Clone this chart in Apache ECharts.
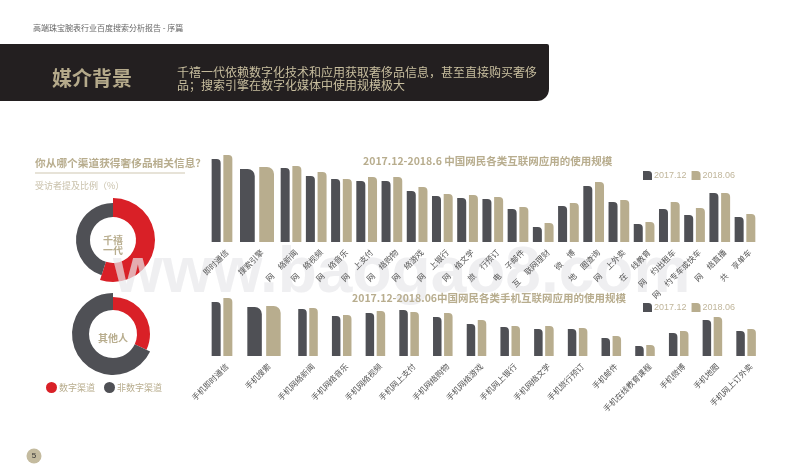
<!DOCTYPE html>
<html>
<head>
<meta charset="utf-8">
<style>
  html, body { margin: 0; padding: 0; background: #fff; }
  #main { width: 800px; height: 476px; }
</style>
<script src="https://cdn.jsdelivr.net/npm/echarts@6/dist/echarts.min.js"></script>
</head>
<body>
<div id="main"></div>
<script>
// values are estimates (million users)
const webCategories = ["即时通信", "搜索引擎", "网络新闻", "网络视频", "网络音乐", "网上支付", "网络购物", "网络游戏", "网上银行", "网络文学", "旅行预订", "电子邮件", "互联网理财", "微博", "地图查询", "网上外卖", "在线教育", "网约出租车", "网约专车或快车", "网络直播", "共享单车"];
const web2017 = [722, 635, 644, 574, 548, 531, 531, 444, 400, 383, 374, 287, 131, 313, 487, 348, 157, 287, 235, 426, 218];
const web2018 = [757, 653, 661, 609, 548, 566, 566, 479, 418, 409, 392, 305, 165, 339, 522, 365, 174, 348, 296, 426, 244];

const mobileCategories = ["手机即时通信", "手机搜索", "手机网络新闻", "手机网络音乐", "手机网络视频", "手机网上支付", "手机网络购物", "手机网络游戏", "手机网上银行", "手机网络文学", "手机旅行预订", "手机邮件", "手机在线教育课程", "手机微博", "手机地图", "手机网上订外卖"];
const mobile2017 = [697, 632, 606, 516, 555, 593, 503, 413, 374, 348, 348, 232, 129, 297, 464, 323];
const mobile2018 = [748, 645, 619, 529, 581, 568, 555, 464, 387, 387, 361, 258, 142, 323, 503, 348];

const channelNames = ["数字渠道", "非数字渠道"];
const millennialShare = [55, 45];
const othersShare = [32, 68];

const DARK = "#4f5055";
const TAN = "#b8ad8e";
const LEGEND_ICON = "path://M0 0H60Q100 0 100 40V100H0Z";

const grids = [];
const xAxes = [];
const yAxes = [];
const series = [];

// one grid with its axes and its pair of bars; the first two groups are wider apart than the rest
function addBars(cats, a, b, left, width, top, height, barWidth, radius, labelFn) {
  const i = grids.length;
  grids.push({ left, width, top, height });
  xAxes.push({
    gridIndex: i,
    type: "category",
    data: cats,
    z: 120, // labels stay readable over the watermark
    axisLine: { show: false },
    axisTick: { show: false },
    axisLabel: {
      interval: 0,
      rotate: 45,
      fontSize: 8,
      margin: 14,
      padding: [0, -7, 0, 0],
      color: "#555",
      fontFamily: "Noto Sans CJK SC",
      hideOverlap: false,
      formatter: labelFn,
    },
  });
  yAxes.push({ gridIndex: i, type: "value", min: 0, max: 800, show: false });
  [["2017.12", a, DARK], ["2018.06", b, TAN]].forEach(([name, data, color]) => {
    series.push({
      name,
      type: "bar",
      xAxisIndex: i,
      yAxisIndex: i,
      data,
      barWidth,
      barGap: "30%",
      silent: true,
      itemStyle: { color, borderRadius: [0, radius, 0, 0] },
    });
  });
}

// the reference drops the first character of the short web labels away from the rest
const splitLabel = (v) => v[0] + "     " + v.slice(1);

addBars(webCategories.slice(0, 1), web2017.slice(0, 1), web2018.slice(0, 1), 205, 34, 150, 92, 9, 4);
addBars(webCategories.slice(1, 2), web2017.slice(1, 2), web2018.slice(1, 2), 240, 34, 150, 92, 15, 7);
addBars(webCategories.slice(2), web2017.slice(2), web2018.slice(2), 278.4, 479.2, 150, 92, 9, 4, splitLabel);

addBars(mobileCategories.slice(0, 1), mobile2017.slice(0, 1), mobile2018.slice(0, 1), 205, 34, 294, 62, 9, 4);
addBars(mobileCategories.slice(1, 2), mobile2017.slice(1, 2), mobile2018.slice(1, 2), 247, 34, 294, 62, 14.5, 7);
addBars(mobileCategories.slice(2), mobile2017.slice(2), mobile2018.slice(2), 291.15, 471.8, 294, 62, 8.5, 4);

// the red and grey rings have different outer radii, so each is its own pie
function addDonut(share, center, inner, redOuter, greyOuter) {
  series.push({
    type: "pie",
    center,
    radius: [inner, redOuter],
    startAngle: 90,
    silent: true,
    label: { show: false },
    data: [
      { name: channelNames[0], value: share[0], itemStyle: { color: "#d92027" } },
      { name: "rest", value: share[1], itemStyle: { color: "transparent" } },
    ],
  });
  series.push({
    type: "pie",
    center,
    radius: [inner, greyOuter],
    startAngle: 90,
    silent: true,
    label: { show: false },
    data: [
      { name: "rest", value: share[0], itemStyle: { color: "transparent" } },
      { name: channelNames[1], value: share[1], itemStyle: { color: DARK } },
    ],
  });
}
addDonut(millennialShare, [113, 240], 23, 42, 37);
addDonut(othersShare, [113, 334], 24, 37, 41);

function text(str, x, y, font, fill, extra) {
  return { type: "text", x, y, z: 110, style: Object.assign({ text: str, font, fill, textVerticalAlign: "middle" }, extra) };
}
const CJK = '"Noto Sans CJK SC"';

const graphic = [
  { type: "rect", z: 1, shape: { x: 0, y: 44, width: 549, height: 57, r: [0, 2, 12, 0] }, style: { fill: "#231f20" } },
  { type: "rect", z: 1, shape: { x: 35, y: 172.5, width: 150, height: 1 }, style: { fill: "#cfc7b2" } },
  { type: "circle", z: 1, shape: { cx: 34, cy: 456, r: 7.5 }, style: { fill: "#c4bb9f" } },
  text("高端珠宝腕表行业百度搜索分析报告 - 序篇", 33, 28, "8px " + CJK, "#666"),
  text("媒介背景", 52, 78, "bold 20px " + CJK, "#b5aa8b"),
  text("千禧一代依赖数字化技术和应用获取奢侈品信息，甚至直接购买奢侈", 177, 72, "12px " + CJK, "#c9bf9f"),
  text("品；搜索引擎在数字化媒体中使用规模极大", 177, 85, "12px " + CJK, "#c9bf9f"),
  text("你从哪个渠道获得奢侈品相关信息？", 35, 163, "bold 10.7px " + CJK, "#b8ad8e"),
  text("受访者提及比例（%）", 35, 186, "9px " + CJK, "#c9c1ab"),
  text("2017.12-2018.6 中国网民各类互联网应用的使用规模", 363, 161, "bold 10.5px " + CJK, "#b8ad8e"),
  text("2017.12-2018.06中国网民各类手机互联网应用的使用规模", 352, 298, "bold 10.5px " + CJK, "#b8ad8e"),
  text("千禧", 113, 240, "bold 10px " + CJK, "#b8ad8e", { textAlign: "center" }),
  text("一代", 113, 250, "bold 10px " + CJK, "#b8ad8e", { textAlign: "center" }),
  text("其他人", 113, 338, "bold 10px " + CJK, "#b8ad8e", { textAlign: "center" }),
  text("5", 34, 456, "8px Liberation Sans", "#333", { textAlign: "center" }),
  // watermark sits over the bars and rings, under the text
  { type: "text", x: 113, y: 306, z: 100, style: { text: "www.baogao8.com", font: "bold 64px Liberation Sans", fill: "rgba(232,232,235,0.7)", textVerticalAlign: "bottom" } },
];

const myChart = echarts.init(document.getElementById("main"), null, { renderer: "canvas" });

const barLegendText = { fontSize: 9, color: "#c0b69b", fontFamily: "Liberation Sans", padding: [0, 0, 0, -3] };

const option = {
  animation: false,
  backgroundColor: "#fff",
  grid: grids,
  xAxis: xAxes,
  yAxis: yAxes,
  legend: [
    { left: 643, top: 171, padding: 0, data: ["2017.12", "2018.06"], icon: LEGEND_ICON, itemWidth: 9, itemHeight: 9, itemGap: 5, selectedMode: false, textStyle: barLegendText },
    { left: 643, top: 303, padding: 0, data: ["2017.12", "2018.06"], icon: LEGEND_ICON, itemWidth: 9, itemHeight: 9, itemGap: 5, selectedMode: false, textStyle: barLegendText },
    { left: 46, top: 382, padding: 0, data: channelNames, icon: "circle", itemWidth: 11, itemHeight: 11, itemGap: 9, selectedMode: false, textStyle: { fontSize: 9, color: "#b8ad8e", fontFamily: "Noto Sans CJK SC", padding: [0, 0, 0, -3] } },
  ],
  graphic,
  series,
};

myChart.setOption(option);
</script>
</body>
</html>
